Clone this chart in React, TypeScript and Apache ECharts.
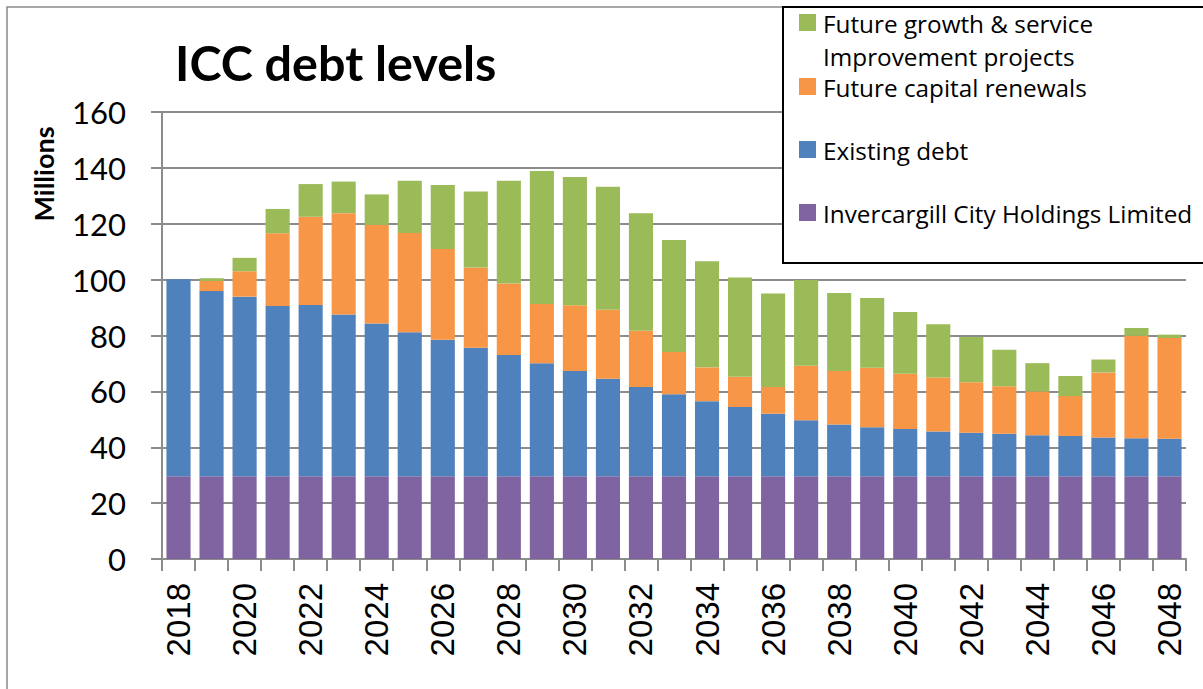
import React, { useEffect, useRef } from "react";
import * as echarts from "echarts";

const years = [
  "2018", "2019", "2020", "2021", "2022", "2023", "2024", "2025", "2026", "2027",
  "2028", "2029", "2030", "2031", "2032", "2033", "2034", "2035", "2036", "2037",
  "2038", "2039", "2040", "2041", "2042", "2043", "2044", "2045", "2046", "2047", "2048",
];

const holdings = [
  29.6, 29.6, 29.6, 29.6, 29.6, 29.6, 29.6, 29.6, 29.6, 29.6,
  29.6, 29.6, 29.6, 29.6, 29.6, 29.6, 29.6, 29.6, 29.6, 29.6,
  29.6, 29.6, 29.6, 29.6, 29.6, 29.6, 29.6, 29.6, 29.6, 29.6, 29.6,
];

const existingDebt = [
  70.5, 66.3, 64.3, 61.0, 61.3, 57.9, 54.7, 51.6, 48.9, 46.0,
  43.4, 40.5, 37.7, 34.9, 32.0, 29.4, 26.9, 24.8, 22.4, 20.1,
  18.5, 17.6, 16.9, 16.0, 15.6, 15.2, 14.7, 14.4, 13.9, 13.6, 13.4,
];

const capitalRenewals = [
  0, 3.6, 9.1, 26.0, 31.6, 36.3, 35.3, 35.5, 32.5, 28.7,
  25.6, 21.2, 23.5, 24.7, 20.1, 15.1, 12.1, 10.8, 9.6, 19.5,
  19.2, 21.3, 19.8, 19.4, 18.1, 17.0, 15.7, 14.3, 23.3, 36.7, 36.1,
];

const growthProjects = [
  0, 1.0, 4.8, 8.7, 11.7, 11.3, 10.9, 18.7, 22.9, 27.2,
  36.8, 47.6, 45.9, 44.0, 42.1, 40.1, 38.0, 35.6, 33.4, 30.7,
  27.9, 24.9, 22.1, 19.0, 16.2, 13.1, 10.1, 7.2, 4.6, 2.8, 1.2,
];

const seriesNames = [
  "Invercargill City Holdings Limited",
  "Existing debt",
  "Future capital renewals",
  "Future growth & service Improvement projects",
];

const colors = ["#8064A2", "#4F81BD", "#F79646", "#9BBB59"];

export default function App() {
  const ref = useRef<HTMLDivElement>(null);

  useEffect(() => {
    document.body.style.margin = "0";
    if (!ref.current) return;
    const chart = echarts.init(ref.current, undefined, { renderer: "svg" });
    const dataSets = [holdings, existingDebt, capitalRenewals, growthProjects];
    const gridColor = "#8c8c8c";
    const legendFont = '"Open Sans", sans-serif';

    const legendItems = [
      { color: colors[3], y: 23, lines: ["Future growth & service", "Improvement projects"] },
      { color: colors[2], y: 87, lines: ["Future capital renewals"] },
      { color: colors[1], y: 150, lines: ["Existing debt"] },
      { color: colors[0], y: 213, lines: ["Invercargill City Holdings Limited"] },
    ];

    const legendGraphics: any[] = [];
    legendItems.forEach((it) => {
      legendGraphics.push({
        type: "rect",
        z: 11,
        shape: { x: 799, y: it.y - 9, width: 17, height: 17 },
        style: { fill: it.color },
      });
      it.lines.forEach((ln, i) => {
        legendGraphics.push({
          type: "text",
          z: 11,
          x: 823,
          y: it.y + i * 33,
          style: {
            text: ln,
            fontSize: 24.3,
            fontFamily: legendFont,
            fill: "#000",
            align: "left",
            verticalAlign: "middle",
          },
        });
      });
    });

    chart.setOption({
      animation: false,
      backgroundColor: "#ffffff",
      grid: { left: 162, right: 17, top: 112, bottom: 130, containLabel: false },
      xAxis: {
        type: "category",
        data: years,
        boundaryGap: true,
        axisLine: { show: true, lineStyle: { color: gridColor, width: 2 } },
        axisTick: { show: true, interval: 0, length: 12, alignWithLabel: false, lineStyle: { color: gridColor, width: 2 } },
        axisLabel: {
          interval: 1,
          rotate: 90,
          margin: 24,
          color: "#000",
          fontSize: 33,
          fontFamily: '"Liberation Sans", Arial, sans-serif',
        },
      },
      yAxis: {
        type: "value",
        min: 0,
        max: 160,
        interval: 20,
        axisLine: { show: true, lineStyle: { color: gridColor, width: 2 } },
        axisTick: { show: true, length: 11, lineStyle: { color: gridColor, width: 2 } },
        splitLine: { show: true, lineStyle: { color: gridColor, width: 2 } },
        axisLabel: {
          margin: 36,
          color: "#000",
          fontSize: 31,
          fontFamily: "Lato, sans-serif",
        },
      },
      series: dataSets.map((d, i) => ({
        name: seriesNames[i],
        type: "bar",
        stack: "debt",
        data: d,
        barCategoryGap: "27%",
        itemStyle: { color: colors[i] },
      })),
      graphic: [
        {
          type: "rect",
          z: 0,
          shape: { x: 7, y: 7, width: 1220, height: 720 },
          style: { fill: "none", stroke: "#8a8a8a", lineWidth: 1.5 },
        },
        {
          type: "text",
          x: 175,
          y: 62,
          style: {
            text: "ICC debt levels",
            fontSize: 48.5,
            fontWeight: "bold",
            fontFamily: "Lato, sans-serif",
            fill: "#000",
            align: "left",
            verticalAlign: "middle",
          },
        },
        {
          type: "text",
          x: 43,
          y: 174,
          rotation: Math.PI / 2,
          style: {
            text: "Millions",
            fontSize: 27,
            fontWeight: "bold",
            fontFamily: "Lato, sans-serif",
            fill: "#000",
            align: "center",
            verticalAlign: "middle",
          },
        },
        {
          type: "rect",
          z: 10,
          shape: { x: 783, y: 7, width: 440, height: 256 },
          style: { fill: "#ffffff", stroke: "#000000", lineWidth: 2 },
        },
        ...legendGraphics,
      ],
    });

    return () => chart.dispose();
  }, []);

  return <div ref={ref} style={{ width: 1203, height: 689 }} />;
}
